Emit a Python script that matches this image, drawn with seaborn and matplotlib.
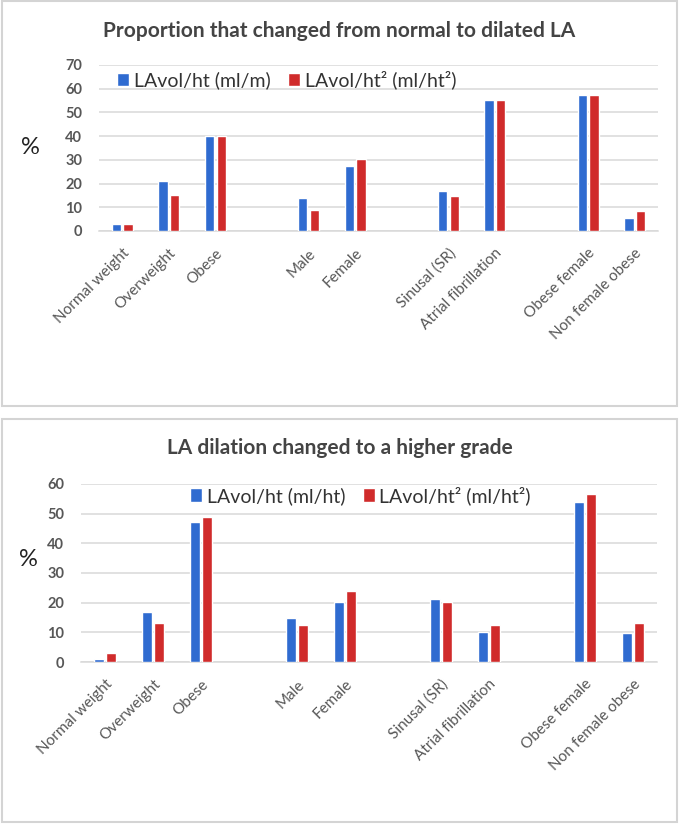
import numpy as np
import pandas as pd
import seaborn as sns
import matplotlib.pyplot as plt
from matplotlib.patches import Rectangle

# categories (blank strings are the empty slots between groups)
categories = ["Normal weight", "Overweight", "Obese", " ",
              "Male", "Female", "  ",
              "Sinusal (SR)", "Atrial fibrillation", "   ",
              "Obese female", "Non female obese"]
groups = ["Normal weight", "Overweight", "Obese", "Male", "Female",
          "Sinusal (SR)", "Atrial fibrillation", "Obese female", "Non female obese"]

# panel 1: proportion that changed from normal to dilated LA
top_ht = [3, 21, 40, 14, 27.5, 16.8, 55.2, 57.5, 5.3]
top_ht2 = [3, 15, 40, 8.8, 30.4, 14.6, 55.2, 57.5, 8.4]
top_labels = ["LAvol/ht (ml/m)", "LAvol/ht\u00b2 (ml/ht\u00b2)"]

# panel 2: LA dilation changed to a higher grade
bot_ht = [1, 16.9, 47.2, 15, 20.2, 21.3, 10.1, 53.9, 9.8]
bot_ht2 = [2.9, 13.2, 49, 12.5, 23.8, 20.2, 12.6, 56.6, 13.2]
bot_labels = ["LAvol/ht (ml/ht)", "LAvol/ht\u00b2 (ml/ht\u00b2)"]

colors = ["#2f6bd0", "#d02b2b"]
font = ["Lato", "DejaVu Sans"]


def make_df(a, b, labels):
    return pd.DataFrame({
        "group": groups * 2,
        "pct": a + b,
        "measure": [labels[0]] * len(a) + [labels[1]] * len(b),
    })


def draw_panel(ax, df, labels, ymax, title, title_y, legend_xy, pct_xy):
    sns.barplot(data=df, x="group", y="pct", hue="measure", order=categories,
                hue_order=labels, palette=colors, width=0.5, gap=0.2,
                saturation=1, ax=ax, legend=True, zorder=3)
    ax.set_xlim(-0.5, len(categories) - 0.5)
    ax.set_ylim(0, ymax)
    ax.set_yticks(np.arange(0, ymax + 1, 10))
    ax.grid(axis="y", color="#d9d9d9", linewidth=1.1, zorder=0)
    ax.set_axisbelow(True)
    for s in ["top", "right", "left"]:
        ax.spines[s].set_visible(False)
    ax.spines["bottom"].set_color("#d9d9d9")
    ax.spines["bottom"].set_linewidth(1.1)
    ax.spines["bottom"].set_zorder(0.5)
    ax.tick_params(axis="both", length=0, colors="#575757")
    ax.tick_params(axis="y", pad=12, labelsize=10.5)
    ax.tick_params(axis="x", pad=11, labelsize=11)
    for t in ax.get_yticklabels():
        t.set_family(font)
        t.set_fontweight("bold")
    for t in ax.get_xticklabels():
        t.set_family(font)
        t.set_rotation(45)
        t.set_ha("right")
        t.set_rotation_mode("anchor")
    ax.set_xlabel("")
    ax.set_ylabel("")
    leg = ax.legend(loc="center left", bbox_to_anchor=legend_xy, ncol=2,
                    frameon=False, handlelength=0.6, handleheight=0.7,
                    handletextpad=0.25, columnspacing=0.9, borderaxespad=0,
                    borderpad=0, prop={"family": font, "size": 14})
    for t in leg.get_texts():
        t.set_color("#333333")
    fig.text(0.5, title_y, title, ha="center", va="center", fontsize=15,
             family=font, fontweight="bold", color="#444444")
    fig.text(pct_xy[0], pct_xy[1], "%", ha="center", va="center", fontsize=17,
             family=font, color="#222222")


sns.set_theme(style="white")
plt.rcParams["font.family"] = font

fig = plt.figure(figsize=(6.79, 8.25), dpi=100)
fig.patch.set_facecolor("white")

# panel borders
fig.patches.append(Rectangle((2 / 679, 1 - 406 / 825), 675 / 679, 405 / 825,
                             transform=fig.transFigure, fill=False,
                             edgecolor="#d4d4d4", linewidth=1.5))
fig.patches.append(Rectangle((2 / 679, 1 - 822 / 825), 675 / 679, 403 / 825,
                             transform=fig.transFigure, fill=False,
                             edgecolor="#d4d4d4", linewidth=1.5))

ax1 = fig.add_axes([99 / 679, 1 - 231 / 825, 559 / 679, 166 / 825])
draw_panel(ax1, make_df(top_ht, top_ht2, top_labels), top_labels, 70,
           "Proportion that changed from normal to dilated LA", 1 - 31 / 825,
           (0.033, 0.91), (30 / 679, 1 - 148 / 825))

ax2 = fig.add_axes([81 / 679, 1 - 662 / 825, 576 / 679, 178 / 825])
draw_panel(ax2, make_df(bot_ht, bot_ht2, bot_labels), bot_labels, 60,
           "LA dilation changed to a higher grade", 1 - 448 / 825,
           (0.19, 0.935), (28 / 679, 1 - 560 / 825))

fig.savefig("out.png", dpi=100)
